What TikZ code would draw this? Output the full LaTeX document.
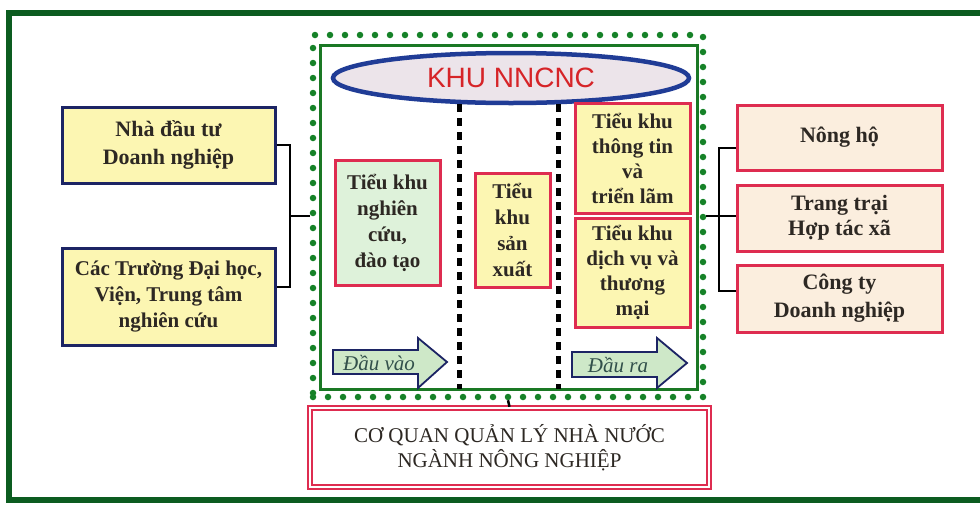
\documentclass[tikz,border=0pt]{standalone}
\usepackage{fontspec}
\setmainfont{Liberation Serif}
\newfontfamily\khusans{Liberation Sans}
\usetikzlibrary{shapes.geometric}
\definecolor{framegreen}{RGB}{12,92,32}
\definecolor{dotgreen}{RGB}{22,130,40}
\definecolor{parkgreen}{RGB}{26,120,36}
\definecolor{navyline}{RGB}{28,36,100}
\definecolor{boxred}{RGB}{222,44,80}
\definecolor{paleyellow}{RGB}{252,246,178}
\definecolor{palegreen}{RGB}{222,242,218}
\definecolor{cream}{RGB}{251,238,222}
\definecolor{ellfill}{RGB}{236,228,234}
\definecolor{ellblue}{RGB}{32,60,150}
\definecolor{khured}{RGB}{214,36,40}
\definecolor{arrowgreen}{RGB}{206,232,200}
\definecolor{arrowtext}{RGB}{50,80,75}
\definecolor{ink}{RGB}{45,40,35}
\begin{document}
\begin{tikzpicture}[x=1pt,y=-1pt,
  txt/.style={align=center,text=ink,inner sep=0pt,font=\bfseries\fontsize{22}{28}\selectfont},
  bluebox/.style={txt,draw=navyline,fill=paleyellow,line width=3pt,minimum width=213pt},
  redbox/.style={txt,draw=boxred,line width=3pt},
  subzone/.style={redbox,font=\bfseries\fontsize{21}{26}\selectfont},
  flow/.style={draw=navyline,fill=arrowgreen,line width=1.8pt,line join=miter},
  flowtext/.style={text=arrowtext,inner sep=0pt,font=\itshape\fontsize{21}{24}\selectfont},
  link/.style={line width=2.5pt},
  divider/.style={line width=5pt,dash pattern=on 8pt off 6pt}]
\useasboundingbox (0,0) rectangle (980,504);
\fill[white] (0,0) rectangle (980,504);
\draw[framegreen,line width=6pt] (9,13) rectangle (1010,500);

\node[draw=dotgreen,line width=6.5pt,line cap=round,dash pattern=on 0pt off 15pt,
  minimum width=390pt,minimum height=362pt,inner sep=0pt] (zone) at (508,216) {};
\node[draw=parkgreen,line width=3pt,minimum width=377pt,minimum height=344pt,inner sep=0pt] (park) at (508.5,217) {};
\node[ellipse,draw=ellblue,line width=4.5pt,fill=ellfill,minimum width=356pt,minimum height=50pt,
  inner sep=0pt,text=khured,font=\khusans\fontsize{28}{30}\selectfont] (khu) at (511,78) {KHU NNCNC};
\draw[divider] (459,104) -- (459,389);
\draw[divider] (558,104) -- (558,389);

\node[subzone,fill=palegreen,minimum width=105pt,minimum height=125pt] (nc) at (387.5,222.5) {Tiểu khu\\nghiên\\cứu,\\đào tạo};
\node[subzone,fill=paleyellow,minimum width=75pt,minimum height=114pt] (sx) at (512.5,230) {Tiểu\\khu\\sản\\xuất};
\node[subzone,fill=paleyellow,minimum width=115pt,minimum height=110pt,font=\bfseries\fontsize{21}{25}\selectfont] (tt) at (632.5,158) {Tiểu khu\\thông tin\\và\\triển lãm};
\node[subzone,fill=paleyellow,minimum width=115pt,minimum height=109pt,font=\bfseries\fontsize{21}{25}\selectfont] (dv) at (632.5,272.5) {Tiểu khu\\dịch vụ và\\thương\\mại};

\draw[flow] (333,350) -- (418,350) -- (418,338) -- (447,362) -- (418,388) -- (418,374) -- (333,374) -- cycle;
\node[flowtext] (invalue) at (379,363) {Đầu vào};
\draw[flow] (572,352) -- (657,352) -- (657,338) -- (687,363) -- (657,388) -- (657,377) -- (572,377) -- cycle;
\node[flowtext] (outvalue) at (618,365) {Đầu ra};

\node[bluebox,minimum height=76pt] (inv) at (168.5,145) {Nhà đầu tư\\Doanh nghiệp};
\node[bluebox,minimum height=97pt,font=\bfseries\fontsize{21}{26}\selectfont] (uni) at (168.5,296.5) {Các Trường Đại học,\\Viện, Trung tâm\\nghiên cứu};

\node[redbox,fill=cream,minimum width=205pt,minimum height=65pt] (nh) at (839.5,137.5) {Nông hộ};
\node[redbox,fill=cream,minimum width=205pt,minimum height=66pt,font=\bfseries\fontsize{22}{25}\selectfont] (tr) at (839.5,218) {Trang trại\\Hợp tác xã};
\node[redbox,fill=cream,minimum width=205pt,minimum height=67pt] (ct) at (839.5,298.5) {Công ty\\Doanh nghiệp};

\node[txt,font=\fontsize{21}{25}\selectfont,draw=boxred,fill=white,line width=2.5pt,double=white,double distance=1.5pt,
  minimum width=399pt,minimum height=79pt] (cq) at (509.5,447.5) {CƠ QUAN QUẢN LÝ NHÀ NƯỚC\\NGÀNH NÔNG NGHIỆP};

\coordinate (lj) at (290,216);
\draw[link] (inv.east) -| (lj) |- ([yshift=9.5pt]uni.east);
\draw[link] (lj) -- (zone.west);
\coordinate (rj) at (719,216);
\draw[link] ([yshift=-10.5pt]nh.west) -| (rj) |- ([yshift=7.5pt]ct.west);
\draw[link] (zone.east) -- (zone.east -| tr.west);
\draw[link] (zone.south) -- (cq.north);
\end{tikzpicture}
\end{document}
